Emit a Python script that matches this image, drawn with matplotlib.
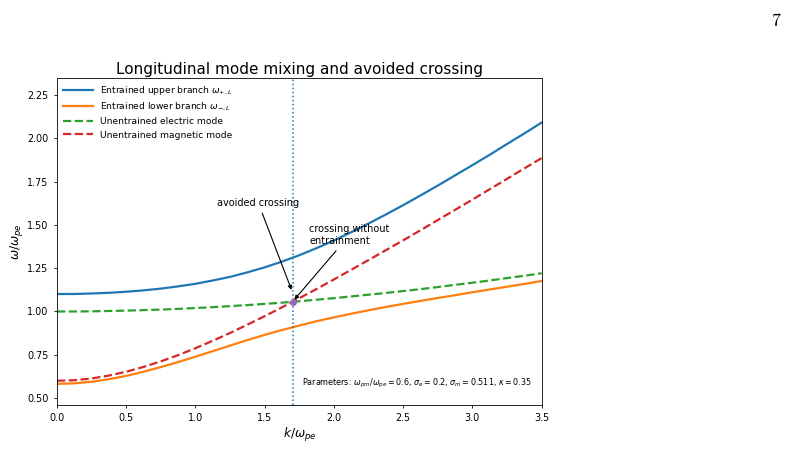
import matplotlib
matplotlib.use("Agg")
import matplotlib.pyplot as plt

k = [0.000, 0.125, 0.250, 0.375, 0.500, 0.625, 0.750, 0.875, 1.000, 1.125, 1.250, 1.375, 1.500, 1.625, 1.750, 1.875, 2.000, 2.125, 2.250, 2.375, 2.500, 2.625, 2.750, 2.875, 3.000, 3.125, 3.250, 3.375, 3.500]
upper = [1.101, 1.101, 1.104, 1.108, 1.114, 1.122, 1.132, 1.145, 1.160, 1.179, 1.200, 1.226, 1.255, 1.288, 1.325, 1.366, 1.410, 1.458, 1.508, 1.560, 1.614, 1.670, 1.727, 1.786, 1.845, 1.905, 1.967, 2.028, 2.091]
lower = [0.582, 0.585, 0.594, 0.609, 0.628, 0.652, 0.679, 0.708, 0.739, 0.771, 0.803, 0.835, 0.865, 0.893, 0.919, 0.944, 0.966, 0.987, 1.007, 1.026, 1.044, 1.061, 1.078, 1.094, 1.111, 1.127, 1.143, 1.159, 1.176]
electric = [1.000, 1.000, 1.001, 1.003, 1.005, 1.008, 1.011, 1.015, 1.020, 1.025, 1.031, 1.037, 1.044, 1.051, 1.059, 1.068, 1.077, 1.087, 1.097, 1.107, 1.118, 1.129, 1.141, 1.154, 1.166, 1.179, 1.193, 1.206, 1.221]
magnetic = [0.600, 0.603, 0.613, 0.630, 0.652, 0.680, 0.712, 0.748, 0.788, 0.831, 0.876, 0.924, 0.973, 1.024, 1.077, 1.130, 1.185, 1.241, 1.297, 1.354, 1.411, 1.469, 1.528, 1.587, 1.646, 1.706, 1.766, 1.826, 1.886]
k_cross = 1.701
w_cross = 1.056
gap_mid = 1.11

fig = plt.figure(figsize=(7.93, 4.51), dpi=100)
ax = fig.add_axes([0.0719, 0.102, 0.6111, 0.7257])

lw = 1.6
ax.plot(k, upper, color="tab:blue", lw=lw, label=r"Entrained upper branch $\omega_{+,L}$")
ax.plot(k, lower, color="tab:orange", lw=lw, label=r"Entrained lower branch $\omega_{-,L}$")
ax.plot(k, electric, color="tab:green", lw=lw, ls=(0, (3.7, 1.6)), label="Unentrained electric mode")
ax.plot(k, magnetic, color="tab:red", lw=lw, ls=(0, (3.7, 1.6)), label="Unentrained magnetic mode")
ax.axvline(k_cross, color="tab:blue", ls=":", lw=1.1)
ax.plot([k_cross], [w_cross], "o", color="tab:purple", ms=4)

ax.annotate("avoided crossing", xy=(k_cross, gap_mid), xytext=(1.157, 1.61),
            fontsize=7, arrowprops=dict(arrowstyle="-|>", color="black", lw=0.8,
                                         mutation_scale=6, shrinkA=2, shrinkB=2))
ax.annotate("crossing without\nentrainment", xy=(k_cross, w_cross), xytext=(1.822, 1.39),
            fontsize=7, arrowprops=dict(arrowstyle="-|>", color="black", lw=0.8,
                                         mutation_scale=6, shrinkA=2, shrinkB=2))

ax.text(0.98, 0.045,
        r"Parameters: $\omega_{pm}/\omega_{pe} = 0.6$, $\sigma_e = 0.2$, $\sigma_m = 0.511$, $\kappa = 0.35$",
        transform=ax.transAxes, ha="right", va="bottom", fontsize=5.8)

ax.set_xlim(0, 3.5)
ax.set_ylim(0.46, 2.35)
ax.set_xticks([0.0, 0.5, 1.0, 1.5, 2.0, 2.5, 3.0, 3.5])
ax.set_yticks([0.50, 0.75, 1.00, 1.25, 1.50, 1.75, 2.00, 2.25])
ax.set_yticklabels(["0.50", "0.75", "1.00", "1.25", "1.50", "1.75", "2.00", "2.25"])
ax.tick_params(labelsize=6.9, length=2.5, width=0.6)
for s in ax.spines.values():
    s.set_linewidth(0.6)
ax.set_xlabel(r"$k/\omega_{pe}$", fontsize=8.7, labelpad=2)
ax.set_ylabel(r"$\omega/\omega_{pe}$", fontsize=8.7, labelpad=2)
ax.set_title("Longitudinal mode mixing and avoided crossing", fontsize=11, pad=3)
ax.legend(loc="upper left", frameon=False, fontsize=6.6, handlelength=3.2,
          borderaxespad=0.3, labelspacing=0.45)

fig.text(0.985, 0.97, "7", family="cmr10", fontsize=13, ha="right", va="top")

fig.savefig("out.png", dpi=100)
